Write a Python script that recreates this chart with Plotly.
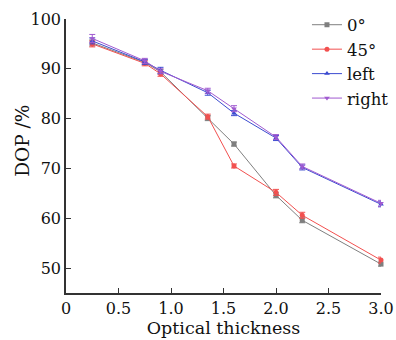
import plotly.graph_objects as go

x_vals = [0.25, 0.75, 0.9, 1.35, 1.6, 2.0, 2.25, 3.0]
dop_0 = [95.2, 91.3, 89.4, 80.1, 74.9, 64.6, 59.6, 50.8]
dop_45 = [95.0, 91.1, 89.0, 80.4, 70.5, 65.2, 60.6, 51.6]
dop_left = [95.6, 91.4, 89.7, 85.2, 81.1, 76.1, 70.2, 62.8]
dop_right = [96.1, 91.6, 89.5, 85.6, 82.0, 76.3, 70.4, 63.0]
err_0 = [0.6, 0.5, 0.5, 0.5, 0.4, 0.5, 0.5, 0.4]
err_45 = [0.6, 0.5, 0.5, 0.5, 0.4, 0.6, 0.6, 0.6]
err_left = [0.6, 0.5, 0.6, 0.5, 0.5, 0.5, 0.5, 0.5]
err_right = [0.8, 0.5, 0.5, 0.5, 0.6, 0.5, 0.5, 0.6]
series_names = ["0°", "45°", "left", "right"]
x_tickvals = [0, 0.5, 1.0, 1.5, 2.0, 2.5, 3.0]
x_ticktext = ["0", "0.5", "1.0", "1.5", "2.0", "2.5", "3.0"]
y_tickvals = [50, 60, 70, 80, 90, 100]

colors = ["#7f7f7f", "#f2504f", "#3b4bd0", "#a05ad0"]
symbols = ["square", "circle", "triangle-up", "triangle-down"]
data = [dop_0, dop_45, dop_left, dop_right]
errs = [err_0, err_45, err_left, err_right]

FONT = "DejaVu Serif"
fig = go.Figure()
for name, y, e, c, s in zip(series_names, data, errs, colors, symbols):
    fig.add_trace(go.Scatter(
        x=x_vals, y=y, name=name, mode="lines+markers",
        line=dict(color=c, width=1),
        marker=dict(symbol=s, size=5, color=c),
        error_y=dict(type="data", array=e, color=c, thickness=1, width=3),
        cliponaxis=False,
    ))

fig.add_annotation(text="DOP /%", xref="paper", yref="paper",
                   x=-0.137, y=0.555, xanchor="center", yanchor="middle",
                   textangle=-90, showarrow=False,
                   font=dict(family=FONT, size=18.5, color="#111"))

fig.update_layout(
    width=396, height=340,
    margin=dict(l=66, r=15, t=19, b=47, autoexpand=False),
    paper_bgcolor="white", plot_bgcolor="white",
    font=dict(family=FONT, size=16, color="#111"),
    showlegend=True,
    legend=dict(x=0.765, y=1.042, xanchor="left", yanchor="top",
                bgcolor="rgba(0,0,0,0)", font=dict(family=FONT, size=16.5),
                itemwidth=30, tracegroupgap=0),
    xaxis=dict(range=[0, 3.0], tickvals=x_tickvals, ticktext=x_ticktext,
               showline=True, linecolor="#333", linewidth=1.5,
               ticks="inside", ticklen=5, tickcolor="#333",
               showgrid=False, zeroline=False, automargin=False,
               title=dict(text="Optical thickness", standoff=2,
                          font=dict(family=FONT, size=17.5))),
    yaxis=dict(range=[45, 100], tickvals=y_tickvals,
               showline=True, linecolor="#333", linewidth=1.5,
               ticks="inside", ticklen=5, tickcolor="#333",
               showgrid=False, zeroline=False, automargin=False),
)

fig.write_html("out.html", config={"displayModeBar": False},
               post_script="document.body.style.margin='0';")
